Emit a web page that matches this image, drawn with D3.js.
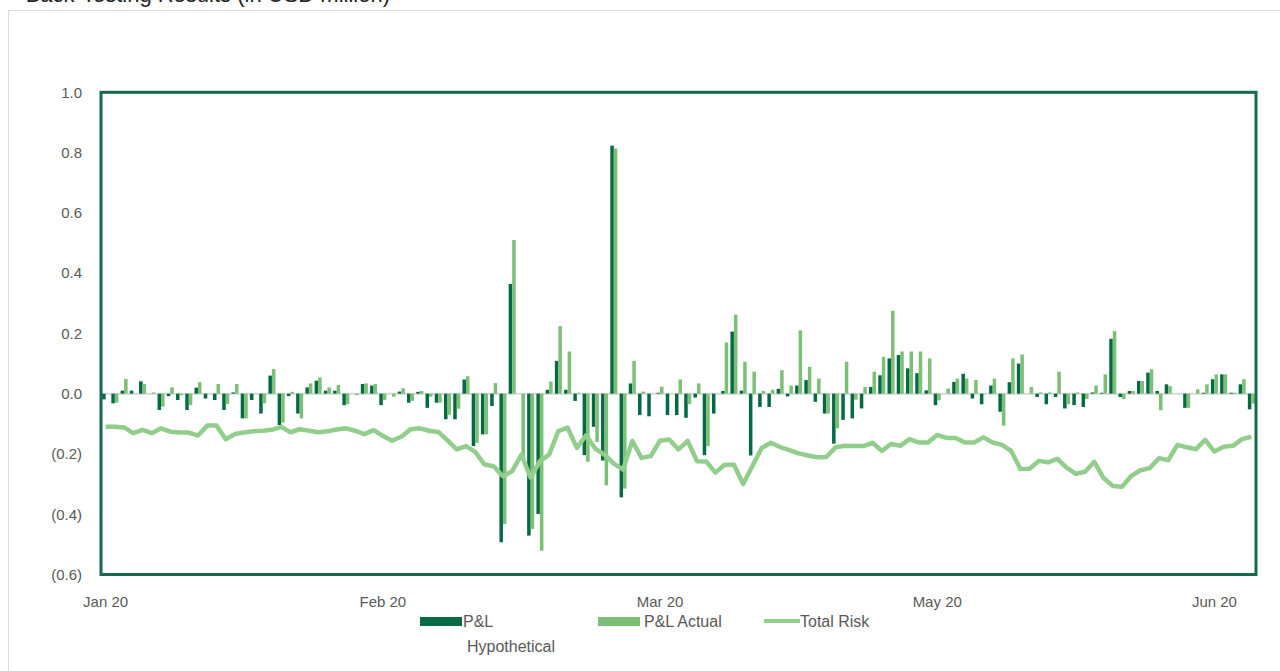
<!DOCTYPE html>
<html>
<head>
<meta charset="utf-8">
<script src="https://cdn.jsdelivr.net/npm/d3@7"></script>
<style>
  body { margin: 0; background: #fff; }
  svg text { font-family: 'Liberation Sans Narrow', 'Liberation Sans', Arial, sans-serif; fill: #595959; }
</style>
</head>
<body>
<svg width="1280" height="671"></svg>
<script>
// daily back-testing values, one entry per trading day (USD million)
let plHyp = [
  -0.019, -0.032, 0.010, 0.010, 0.041, 0.000, -0.054, -0.008, -0.021, -0.054,
   0.020, -0.016, -0.021, -0.054, 0.004, -0.082, -0.021, -0.066, 0.060, -0.104,
  -0.008, -0.066, 0.021, 0.043, 0.010, 0.010, -0.038, 0.000, 0.032, 0.027,
  -0.038, 0.000, 0.007, -0.030, 0.006, -0.047, -0.030, -0.085, -0.085, 0.047,
  -0.174, -0.135, -0.041, -0.493, 0.364, 0.000, -0.471, -0.399, 0.013, 0.109,
   0.013, -0.024, -0.204, -0.110, -0.222, 0.823, -0.344, 0.034, -0.071, -0.075,
   0.003, -0.071, -0.071, -0.080, -0.013, -0.204, -0.066, 0.009, 0.206, 0.010,
  -0.205, -0.044, -0.044, 0.016, -0.009, 0.027, 0.045, -0.027, -0.066, -0.166,
  -0.087, -0.082, -0.049, 0.022, 0.061, 0.117, 0.128, 0.084, 0.068, 0.011,
  -0.038, 0.000, 0.039, 0.066, -0.016, -0.035, 0.027, -0.060, 0.038, 0.100,
   0.000, -0.011, -0.035, -0.011, -0.049, -0.038, -0.044, 0.004, 0.003, 0.182,
  -0.011, 0.009, 0.042, 0.070, 0.009, 0.031, 0.000, -0.047, 0.000, 0.003,
   0.048, 0.064, 0.003, 0.031, -0.052
];

let plAct = [
   0.000, -0.030, 0.049, 0.000, 0.032, 0.004, -0.043, 0.021, -0.005, -0.038,
   0.038, 0.000, 0.032, -0.034, 0.032, -0.082, 0.000, -0.032, 0.082, -0.096,
   0.006, -0.082, 0.034, 0.054, 0.021, 0.029, -0.035, -0.005, 0.034, 0.032,
  -0.021, -0.010, 0.018, -0.024, 0.009, -0.010, -0.030, -0.070, -0.050, 0.058,
  -0.163, -0.135, 0.035, -0.432, 0.510, -0.215, -0.449, -0.521, 0.040, 0.224,
   0.140, 0.003, -0.226, -0.160, -0.304, 0.814, -0.315, 0.109, 0.007, 0.000,
   0.023, 0.000, 0.047, -0.035, 0.034, -0.174, 0.000, 0.170, 0.262, 0.106,
   0.073, 0.009, 0.013, 0.078, 0.027, 0.210, 0.089, 0.050, -0.066, -0.115,
   0.106, -0.020, 0.022, 0.073, 0.122, 0.275, 0.140, 0.140, 0.140, 0.117,
  -0.022, 0.017, 0.050, 0.050, 0.045, 0.000, 0.050, -0.106, 0.117, 0.130,
   0.022, 0.004, 0.004, 0.073, -0.035, 0.004, -0.018, 0.027, 0.064, 0.208,
  -0.018, 0.009, 0.042, 0.081, -0.055, 0.025, 0.000, -0.047, 0.014, 0.031,
   0.064, 0.064, 0.003, 0.048, -0.033
];

let totalRisk = [
  -0.110, -0.110, -0.112, -0.131, -0.120, -0.131, -0.115, -0.126, -0.129, -0.129,
  -0.139, -0.106, -0.106, -0.151, -0.134, -0.129, -0.125, -0.123, -0.120, -0.110,
  -0.128, -0.118, -0.123, -0.128, -0.125, -0.119, -0.115, -0.123, -0.134, -0.121,
  -0.140, -0.156, -0.143, -0.118, -0.115, -0.123, -0.127, -0.155, -0.185, -0.174,
  -0.193, -0.235, -0.241, -0.274, -0.257, -0.202, -0.279, -0.224, -0.202, -0.124,
  -0.113, -0.180, -0.138, -0.183, -0.202, -0.232, -0.252, -0.157, -0.213, -0.207,
  -0.156, -0.152, -0.185, -0.157, -0.224, -0.225, -0.262, -0.236, -0.236, -0.300,
  -0.240, -0.180, -0.163, -0.177, -0.187, -0.198, -0.205, -0.211, -0.210, -0.178,
  -0.173, -0.174, -0.174, -0.163, -0.190, -0.167, -0.173, -0.151, -0.162, -0.162,
  -0.137, -0.147, -0.147, -0.162, -0.162, -0.145, -0.162, -0.170, -0.190, -0.250,
  -0.249, -0.223, -0.228, -0.216, -0.245, -0.266, -0.259, -0.226, -0.280, -0.306,
  -0.309, -0.273, -0.254, -0.247, -0.214, -0.221, -0.170, -0.178, -0.184, -0.153,
  -0.192, -0.176, -0.173, -0.151, -0.143
];

let tickIndex  = [0, 30, 60, 90, 120],
    tickLabels = ['Jan 20', 'Feb 20', 'Mar 20', 'May 20', 'Jun 20'],
    yTicks     = [-0.6, -0.4, -0.2, 0.0, 0.2, 0.4, 0.6, 0.8, 1.0];

let legendNames = ['P&L', 'P&L Actual', 'Total Risk'];

let plotLeft   = 101,
    plotRight  = 1256,
    plotTop    = 92.3,
    plotBottom = 574.5;

let darkGreen  = '#046a42',
    lightGreen = '#7cbf77',
    lineGreen  = '#91cd8b',
    frameGreen = '#17694a';

let svg = d3.select('svg');

let idx = d3.range(plHyp.length);

let xScale = d3.scaleBand()
               .domain(idx)
               .range([plotLeft, plotRight])
               .paddingInner(0.24)
               .paddingOuter(0.12),
    subScale = d3.scaleBand()
               .domain(['hyp', 'act'])
               .range([0, xScale.bandwidth()]),
    yScale = d3.scaleLinear()
               .domain([-0.6, 1.0])
               .range([plotBottom, plotTop]);

let fmt = d3.format('.1f');

//outer chart frame and the title cut off by the top edge
svg.append('rect')
    .attr('x', 8.5)
    .attr('y', 10.5)
    .attr('width', 1290)
    .attr('height', 700)
    .attr('fill', 'none')
    .attr('stroke', '#d9d9d9');

svg.append('text')
    .attr('x', 390)
    .attr('y', 1.5)
    .attr('font-size', '22px')
    .style('text-anchor', 'end')
    .style('fill', '#222')
    .text('Back-Testing Results (in USD million)');

//zero line
svg.append('line')
    .attr('x1', plotLeft)
    .attr('x2', plotRight)
    .attr('y1', yScale(0))
    .attr('y2', yScale(0))
    .attr('stroke', '#d9d9d9')
    .attr('stroke-width', 2);

//bars
let bars = svg.append('g');

bars.selectAll('rect.hyp')
  .data(idx)
  .enter()
  .append('rect')
    .attr('class', 'hyp')
    .attr('x', i => xScale(i) + subScale('hyp'))
    .attr('width', subScale.bandwidth())
    .attr('y', i => yScale(Math.max(0, plHyp[i])))
    .attr('height', i => Math.abs(yScale(plHyp[i]) - yScale(0)))
    .attr('fill', darkGreen);

bars.selectAll('rect.act')
  .data(idx)
  .enter()
  .append('rect')
    .attr('class', 'act')
    .attr('x', i => xScale(i) + subScale('act'))
    .attr('width', subScale.bandwidth())
    .attr('y', i => yScale(Math.max(0, plAct[i])))
    .attr('height', i => Math.abs(yScale(plAct[i]) - yScale(0)))
    .attr('fill', lightGreen);

//total risk line
let line = d3.line()
             .x(i => xScale(i) + xScale.bandwidth() / 2)
             .y(i => yScale(totalRisk[i]));

svg.append('path')
    .datum(idx)
    .attr('d', line)
    .attr('fill', 'none')
    .attr('stroke', lineGreen)
    .attr('stroke-width', 4.5)
    .attr('stroke-linejoin', 'round');

//plot border
svg.append('rect')
    .attr('x', plotLeft)
    .attr('y', plotTop)
    .attr('width', plotRight - plotLeft)
    .attr('height', plotBottom - plotTop)
    .attr('fill', 'none')
    .attr('stroke', frameGreen)
    .attr('stroke-width', 3);

//Y Axis
let yAxis = d3.axisLeft(yScale)
              .tickValues(yTicks)
              .tickSize(0)
              .tickPadding(19)
              .tickFormat(v => v < -1e-9 ? `(${fmt(-v)})` : fmt(Math.abs(v)));

svg.append('g')
    .attr('transform', `translate(${plotLeft}, 0)`)
    .call(yAxis)
    .call(g => g.select('.domain').remove())
    .selectAll('text')
    .attr('font-size', '15px')
    .style('font-family', null);

//X Axis
let xAxis = d3.axisBottom(xScale)
              .tickValues(tickIndex)
              .tickSize(0)
              .tickPadding(22)
              .tickFormat((d, k) => tickLabels[k]);

svg.append('g')
    .attr('transform', `translate(0, ${plotBottom})`)
    .call(xAxis)
    .call(g => g.select('.domain').remove())
    .selectAll('text')
    .attr('font-size', '15px')
    .style('font-family', null);

//legend
let legend = svg.append('g').attr('font-size', '16px');

legend.append('rect')
    .attr('x', 420).attr('y', 617)
    .attr('width', 42).attr('height', 9)
    .attr('fill', darkGreen);
legend.append('text')
    .attr('x', 463).attr('y', 627)
    .text(legendNames[0]);
legend.append('text')
    .attr('x', 467).attr('y', 652)
    .text('Hypothetical');

legend.append('rect')
    .attr('x', 598).attr('y', 617)
    .attr('width', 42).attr('height', 9)
    .attr('fill', lightGreen);
legend.append('text')
    .attr('x', 644).attr('y', 627)
    .text(legendNames[1]);

legend.append('line')
    .attr('x1', 764).attr('x2', 800)
    .attr('y1', 621).attr('y2', 621)
    .attr('stroke', lineGreen)
    .attr('stroke-width', 4);
legend.append('text')
    .attr('x', 800).attr('y', 627)
    .text(legendNames[2]);
</script>
</body>
</html>
